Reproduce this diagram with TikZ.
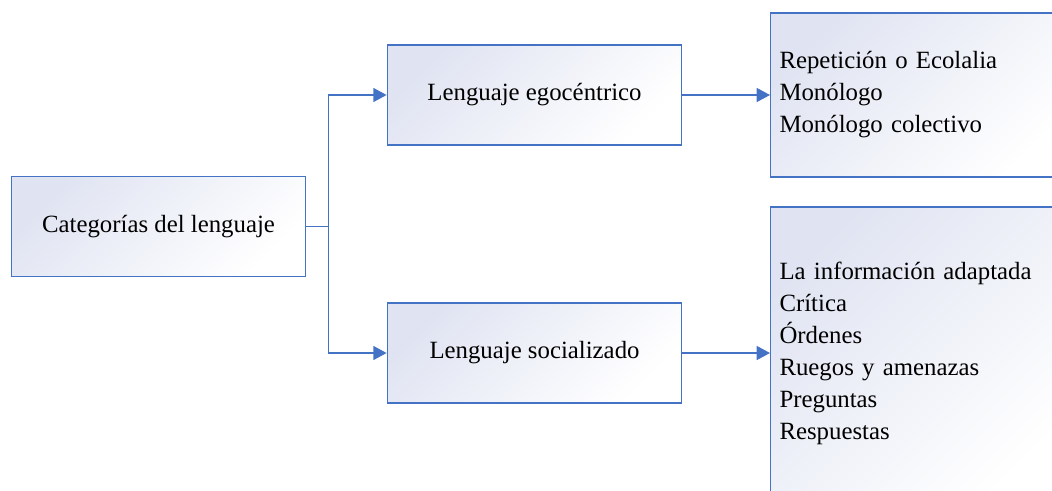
\documentclass[tikz,border=0pt]{standalone}
\usepackage{fontspec}
\setmainfont{Liberation Serif}
\usetikzlibrary{arrows.meta}
\definecolor{boxline}{HTML}{4472C4}
\definecolor{boxshade}{HTML}{E0E4F2}

\begin{document}
\begin{tikzpicture}[x=0.75pt,y=-0.75pt,>={Triangle[length=10pt,width=10.5pt]},
                    font=\fontsize{18.6}{24}\selectfont,
                    main node/.style={rectangle,draw=boxline,line width=0.8pt,top color=boxshade,bottom color=white,shading angle=45,minimum width=221pt,minimum height=75pt,inner sep=0pt},
                    list node/.style={main node,anchor=west,align=left,text width=215pt,inner xsep=6.75pt},
                    link/.style={->,color=boxline,line width=1.1pt}]
  \useasboundingbox (0,0) rectangle (1052,490);
  \clip (0,0) rectangle (1052,490);
  \node[main node] (1) at (158.5,226.5) {Categorías del lenguaje};
  \node[main node] (2) at (534.5,95) {Lenguaje egocéntrico};
  \node[main node] (3) at (534.5,353) {Lenguaje socializado};
  \node[list node,minimum height=123pt] (4) at (770,95) {Repetición o Ecolalia\\Monólogo\\Monólogo colectivo};
  \node[list node,minimum height=219pt] (5) at (770,353) {La información adaptada\\Crítica\\Órdenes\\Ruegos y amenazas\\Preguntas\\Respuestas};
  \draw[link] (1.east) -- ++(22,0) coordinate (fork) |- (2);
  \draw[link] (fork) |- (3);
  \path[link]
    (2) edge (4)
    (3) edge (5);
\end{tikzpicture}
\end{document}
